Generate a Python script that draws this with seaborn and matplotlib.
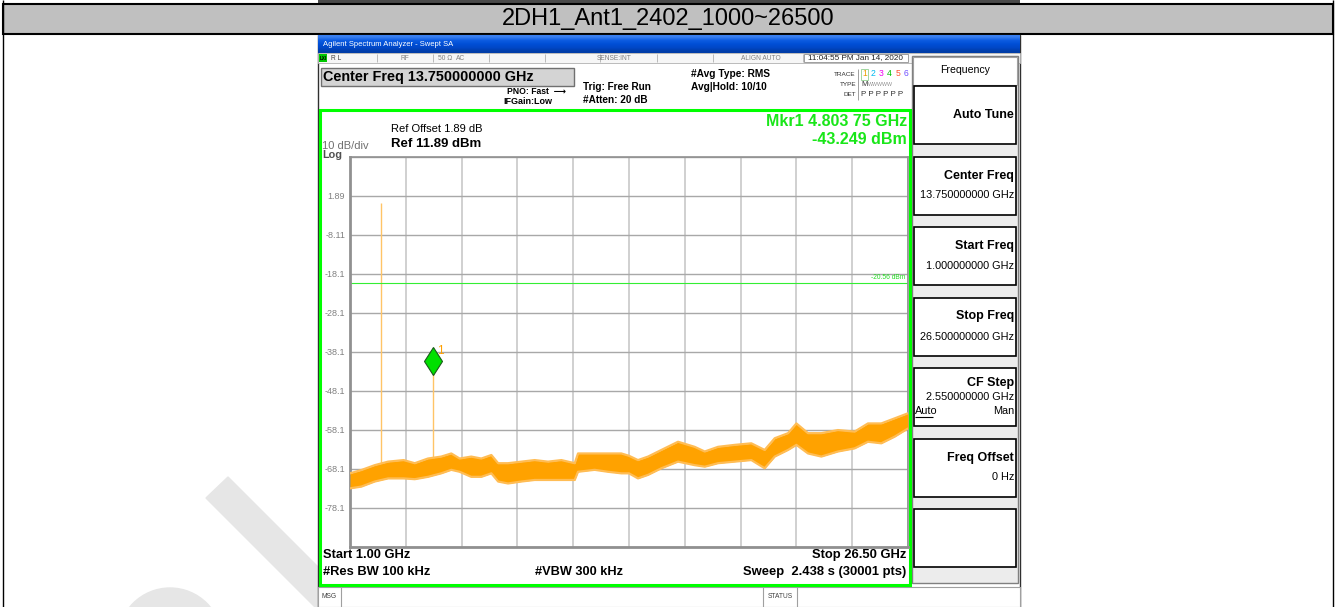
import numpy as np
import pandas as pd
import matplotlib.pyplot as plt
import matplotlib.patches as mpatches
import matplotlib.transforms as mtransforms
import seaborn as sns

# trace envelope (GHz / dBm)
freq_ghz = [1.0, 1.52, 2.13, 2.74, 3.45, 3.96, 4.56, 5.17, 5.63, 6.01,
            6.54, 7.0, 7.46, 7.77, 8.22, 8.83, 9.44, 10.05, 10.66, 11.27,
            11.42, 12.18, 12.79, 13.40, 13.75, 14.16, 14.62, 15.23, 15.99, 16.75,
            17.21, 17.82, 18.58, 19.34, 19.95, 20.41, 21.02, 21.40, 21.93, 22.54,
            23.30, 24.06, 24.67, 25.28, 25.89, 26.5]
trace_top = [-69.3, -68.45, -67.2, -66.3, -65.9, -66.7, -65.5, -65.0, -64.2, -65.5,
             -65.0, -65.5, -64.6, -66.7, -66.7, -66.3, -65.9, -66.3, -65.9, -66.7,
             -64.2, -64.2, -64.2, -64.2, -64.8, -65.9, -65.0, -63.3, -61.2, -62.5,
             -63.7, -62.5, -62.0, -61.6, -63.3, -60.3, -59.0, -56.5, -59.0, -59.0,
             -58.2, -58.6, -56.5, -56.5, -55.2, -53.9]
trace_bottom = [-73.15, -72.7, -71.4, -70.6, -70.6, -70.8, -70.2, -69.3, -68.4, -68.9,
                -70.2, -70.2, -69.3, -71.4, -71.9, -71.4, -71.0, -71.0, -71.0, -71.0,
                -68.9, -68.4, -68.9, -69.3, -69.3, -70.6, -69.7, -68.0, -66.3, -67.2,
                -67.6, -66.7, -66.3, -65.9, -68.0, -65.0, -63.3, -62.0, -64.2, -65.0,
                -63.7, -62.9, -61.2, -61.6, -59.9, -57.8]

# carrier + 2nd harmonic spikes
spike_freq = [2.402, 4.80375]
spike_top = [0.09, -43.249]
spike_base = [-67.6, -65.6]

mkr_freq = 4.80375
mkr_level = -43.249
limit_level = -20.56

y_ticks = [11.89, 1.89, -8.11, -18.11, -28.11, -38.11, -48.11, -58.11, -68.11, -78.11, -88.11]
y_labels = ['', '1.89', '-8.11', '-18.1', '-28.1', '-38.1', '-48.1', '-58.1', '-68.1', '-78.1', '']
x_ticks = [1.0, 3.55, 6.1, 8.65, 11.2, 13.75, 16.3, 18.85, 21.4, 23.95, 26.5]

softkeys = ['Auto Tune', 'Center Freq', 'Start Freq', 'Stop Freq', 'CF Step', 'Freq Offset', '']
softkey_values = ['', '13.750000000 GHz', '1.000000000 GHz', '26.500000000 GHz',
                  '2.550000000 GHz', '0 Hz', '']

sns.set_style('white')
plt.rcParams['font.family'] = ['Liberation Sans', 'DejaVu Sans']

W, H = 1336, 607
fig = plt.figure(figsize=(W / 100, H / 100), dpi=100)
bg = fig.add_axes([0, 0, 1, 1])
bg.axis('off')


def rect(x0, y0, x1, y1, fc='none', ec='none', lw=1.0, z=1):
    bg.add_patch(mpatches.Rectangle((x0, y0), x1 - x0, y1 - y0, facecolor=fc,
                                    edgecolor=ec, linewidth=lw, zorder=z))


def line(xs, ys, color='black', lw=1.0, z=2):
    bg.plot(xs, ys, color=color, lw=lw, zorder=z, solid_capstyle='butt')


def txt(x, y, s, size=7, color='black', ha='left', va='center', weight='normal', z=5, **kw):
    bg.text(x, y, s, fontsize=size, color=color, ha=ha, va=va, fontweight=weight, zorder=z, **kw)


# faint watermark behind the screenshot
bg.add_patch(mpatches.Polygon([(206, 498), (228, 477), (318, 567), (318, 607), (315, 607)],
                              color='#e6e6e6', zorder=0.5))
bg.add_patch(mpatches.Circle((170, 640), 52, color='#e6e6e6', zorder=0.5))

# report table
rect(318, 0, 1020, 4, fc='#4a4a4a')
rect(3, 4, 1333, 34, fc='#c0c0c0', ec='black', lw=1.5)
line([3, 3], [0, 607])
line([1333, 1333], [0, 607])
txt(668, 19.5, '2DH1_Ant1_2402_1000~26500', size=17, ha='center')

# screenshot frame
rect(318, 35, 1020, 607, fc='white', ec='#303030', lw=1)
grad = np.array([[[0.23, 0.50, 0.94]], [[0.05, 0.36, 0.88]], [[0.0, 0.31, 0.84]],
                 [[0.0, 0.28, 0.78]], [[0.0, 0.24, 0.66]]])
bg.imshow(grad, extent=(318, 1020, 53, 35), aspect='auto', origin='upper', zorder=2,
          interpolation='bilinear')
txt(323, 44, 'Agilent Spectrum Analyzer - Swept SA', size=5.5, color='white')

# status row
rect(318, 53, 1020, 63, fc='#f6f6f6', ec='#b0b0b0', lw=0.6)
for xd in [377, 433, 489, 545, 600, 657, 713, 803]:
    line([xd, xd], [54, 62], color='#b0b0b0', lw=0.6)
rect(319, 54, 327, 62, fc='#00c800', z=3)
txt(323, 58, 'LXI', size=3.3, ha='center', weight='bold')
txt(331, 58, 'R L', size=4.8, color='#404040')
txt(405, 58, 'RF', size=4.8, color='#808080', ha='center')
txt(438, 58, '50 Ω', size=4.8, color='#808080')
txt(456, 58, 'AC', size=4.8, color='#808080')
txt(614, 58, 'SENSE:INT', size=4.8, color='#808080', ha='center')
txt(761, 58, 'ALIGN AUTO', size=4.8, color='#808080', ha='center')
rect(804, 54, 908, 62, fc='white', ec='#909090', lw=0.6)
txt(856, 58, '11:04:55 PM Jan 14, 2020', size=5.9, color='#202020', ha='center')

# header
rect(321, 68, 574, 86, fc='#d4d4d4', ec='#707070', lw=1)
txt(323, 77, 'Center Freq 13.750000000 GHz', size=10.4, weight='bold')
txt(507, 91, 'PNO: Fast  ⟶', size=6.2, weight='bold')
txt(503, 101, 'IFGain:Low', size=6.5, weight='bold')
txt(583, 87, 'Trig: Free Run', size=7.2, weight='bold')
txt(583, 100, '#Atten: 20 dB', size=7.2, weight='bold')
txt(691, 74, '#Avg Type: RMS', size=7.3, weight='bold')
txt(691, 87, 'Avg|Hold: 10/10', size=7.3, weight='bold')
txt(856, 74, 'TRACE', size=4.6, ha='right', color='#303030')
txt(856, 84, 'TYPE', size=4.6, ha='right', color='#303030')
txt(856, 95, 'DET', size=4.6, ha='right', color='#303030')
line([858, 858], [69, 100], color='#909090', lw=0.6)
for i, c in enumerate(['#e8a000', '#00b8f0', '#f000f0', '#00c000', '#ff5030', '#7050ff']):
    txt(862 + i * 8.3, 74, str(i + 1), size=6.2, color=c)
rect(860.5, 68.5, 868, 79.5, ec='#90d090', lw=0.6)
txt(861, 84, 'M', size=5.5, color='#303030')
txt(868, 84, 'WWWWW', size=3.8, color='#909090')
txt(861, 95, 'P P P P P P', size=5.8, color='#303030')

# right softkey panel
rect(912, 56, 1018, 583, fc='#ececec', ec='#808080', lw=1)
rect(913, 57, 1017, 85, fc='white', ec='#a0a0a0', lw=0.8)
txt(965, 70, 'Frequency', size=7.6, ha='center')
for i, (key, val) in enumerate(zip(softkeys, softkey_values)):
    top = 86 + i * 70.5
    rect(914, top, 1016, top + 58, fc='white', ec='black', lw=1.2)
    if key == 'CF Step':
        txt(1014, top + 15, key, size=9, weight='bold', ha='right')
        txt(1014, top + 29, val, size=7.8, ha='right')
        txt(915, top + 43, 'Auto', size=7.8)
        line([915, 933], [top + 48.5, top + 48.5], lw=0.8)
        txt(1014, top + 43, 'Man', size=7.8, ha='right')
    elif val:
        txt(1014, top + 19, key, size=9, weight='bold', ha='right')
        txt(1014, top + 39, val, size=7.8, ha='right')
    elif key:
        txt(1014, top + 29, key, size=9, weight='bold', ha='right')

# display area
rect(320, 110, 910, 585, ec='#00ff00', lw=2.2, z=3)
txt(391, 129, 'Ref Offset 1.89 dB', size=8)
txt(391, 144, 'Ref 11.89 dBm', size=9.5, weight='bold')
txt(322, 146, '10 dB/div', size=8, color='#707070')
txt(322, 155, 'Log', size=7.8, color='#505050', weight='bold')
txt(907, 122, 'Mkr1 4.803 75 GHz', size=11.5, color='#19e619', ha='right', weight='bold')
txt(907, 139, '-43.249 dBm', size=11.5, color='#19e619', ha='right', weight='bold')
txt(323, 555, 'Start 1.00 GHz', size=9.3, weight='bold')
txt(323, 572, '#Res BW 100 kHz', size=9.3, weight='bold')
txt(535, 572, '#VBW 300 kHz', size=9.2, weight='bold')
txt(906, 555, 'Stop 26.50 GHz', size=9.4, weight='bold', ha='right')
txt(906, 572, 'Sweep  2.438 s (30001 pts)', size=9.4, weight='bold', ha='right')

# message bar
rect(318, 587, 1020, 607, fc='white', ec='#a0a0a0', lw=0.8)
for xd in [341, 763, 797]:
    line([xd, xd], [587, 607], color='#a0a0a0', lw=0.8)
txt(329.5, 597, 'MSG', size=4.8, ha='center', color='#404040')
txt(780, 597, 'STATUS', size=4.8, ha='center', color='#404040')

bg.set_xlim(0, W)
bg.set_ylim(H, 0)

# spectrum plot
ax = fig.add_axes([350 / W, 1 - 546.7 / H, 558 / W, 390 / H])
ax.set_facecolor('white')
df = pd.DataFrame({'freq': freq_ghz, 'top': trace_top, 'bottom': trace_bottom})
ax.fill_between(df['freq'], df['bottom'], df['top'], color='#ffa200', lw=0, zorder=3)
sns.lineplot(data=df, x='freq', y='top', color='#ffbd55', lw=1.6, ax=ax, zorder=3)
sns.lineplot(data=df, x='freq', y='bottom', color='#ffbd55', lw=1.6, ax=ax, zorder=3)
ax.vlines(spike_freq, spike_base, spike_top, color='#ffc466', lw=1.0, zorder=2)
ax.axhline(limit_level, color='#33ee33', lw=0.8, zorder=2)
ax.text(26.4, limit_level + 0.6, '-20.56 dBm', ha='right', va='bottom', fontsize=4.8,
        color='#22dd22')
mk_tr = mtransforms.offset_copy(ax.transData, fig=fig, y=10.5, units='dots')
ax.plot([mkr_freq], [mkr_level], marker='d', ms=14.5, mfc='#00e000', mec='#1a5a1a',
        mew=0.8, transform=mk_tr, zorder=6, clip_on=False, ls='none')
ax.annotate('1', xy=(mkr_freq, mkr_level), xytext=(4, 21), textcoords='offset pixels',
            color='#ffa000', fontsize=8.5, ha='left', va='center')

ax.set_xlim(1, 26.5)
ax.set_ylim(-88.11, 11.89)
ax.set_xticks(x_ticks)
ax.set_xticklabels([])
ax.set_yticks(y_ticks, y_labels)
ax.tick_params(length=0, labelsize=6.5, labelcolor='#808080', pad=3.5)
ax.xaxis.grid(True, color='#c8c8c8', lw=1.2)
ax.yaxis.grid(True, color='#a8a8a8', lw=1.0)
ax.set_axisbelow(True)
ax.set_xlabel('')
ax.set_ylabel('')
for side, sp in ax.spines.items():
    sp.set_visible(True)
    sp.set_color('#909090')
    sp.set_linewidth(2.0 if side in ('left', 'bottom') else 1.2)

fig.savefig('out.png', dpi=100)
